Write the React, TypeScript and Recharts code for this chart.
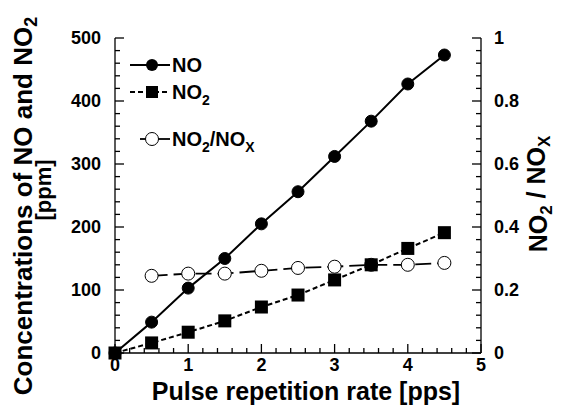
import React from 'react';
import { ComposedChart, Line, XAxis, YAxis, Legend, Label } from 'recharts';

// pulse repetition rate [pps]
const rates = [0, 0.5, 1, 1.5, 2, 2.5, 3, 3.5, 4, 4.5];
// concentrations [ppm]
const noPpm = [0, 49, 103, 150, 205, 256, 312, 368, 427, 473];
const no2Ppm = [0, 16, 33, 51, 73, 92, 116, 140, 166, 191];
// NO2 / NOx (undefined at 0 pps)
const ratio = [null, 0.245, 0.252, 0.252, 0.261, 0.27, 0.274, 0.28, 0.28, 0.286];

const xMajor = [0, 1, 2, 3, 4, 5];
const leftMajor = [0, 100, 200, 300, 400, 500];
const rightMajor = [0, 0.2, 0.4, 0.6, 0.8, 1];
const rightLabels = ['0', '0.2', '0.4', '0.6', '0.8', '1'];

const data = rates.map((x, i) => ({ x, no: noPpm[i], no2: no2Ppm[i], ratio: ratio[i] }));

const FONT = '"Liberation Sans", Arial, Helvetica, sans-serif';

// 5 minor steps between major ticks
const withMinor = (major: number[]) => {
  const out: number[] = [];
  for (let i = 0; i < major.length - 1; i++) {
    for (let k = 0; k < 5; k++) out.push(major[i] + ((major[i + 1] - major[i]) * k) / 5);
  }
  out.push(major[major.length - 1]);
  return out;
};
const majorIndex = (major: number[], v: number) => major.findIndex((m) => Math.abs(m - v) < 1e-9);

const xTicks = withMinor(xMajor);
const leftTicks = withMinor(leftMajor);
const rightTicks = withMinor(rightMajor);

const MAJ = 9;
const MIN = 5;
const SW = 1.3;

const BottomTick = (props: any) => {
  const { x, y, payload } = props;
  const i = majorIndex(xMajor, payload.value);
  return (
    <g>
      <line x1={x} x2={x} y1={y} y2={y - (i >= 0 ? MAJ : MIN)} stroke="#000" strokeWidth={SW} />
      {i >= 0 && (
        <text x={x} y={y + 18} textAnchor="middle" fontFamily={FONT} fontWeight="bold" fontSize={18} fill="#000">
          {xMajor[i]}
        </text>
      )}
    </g>
  );
};

const TopTick = (props: any) => {
  const { x, y, payload } = props;
  const i = majorIndex(xMajor, payload.value);
  return <line x1={x} x2={x} y1={y} y2={y + (i >= 0 ? MAJ : MIN)} stroke="#000" strokeWidth={SW} />;
};

const LeftTick = (props: any) => {
  const { x, y, payload } = props;
  const i = majorIndex(leftMajor, payload.value);
  return (
    <g>
      <line x1={x} x2={x + (i >= 0 ? MAJ : MIN)} y1={y} y2={y} stroke="#000" strokeWidth={SW} />
      {i >= 0 && (
        <text x={x - 14} y={y} dy="0.36em" textAnchor="end" fontFamily={FONT} fontWeight="bold" fontSize={18} fill="#000">
          {leftMajor[i]}
        </text>
      )}
    </g>
  );
};

const RightTick = (props: any) => {
  const { x, y, payload } = props;
  const i = majorIndex(rightMajor, payload.value);
  return (
    <g>
      <line x1={x} x2={x - (i >= 0 ? MAJ : MIN)} y1={y} y2={y} stroke="#000" strokeWidth={SW} />
      {i >= 0 && (
        <text x={x + 13} y={y} dy="0.36em" textAnchor="start" fontFamily={FONT} fontWeight="bold" fontSize={18} fill="#000">
          {rightLabels[i]}
        </text>
      )}
    </g>
  );
};

const Square = (props: any) => {
  const { cx, cy, index } = props;
  if (cx == null || cy == null) return <g key={`sq-${index}`} />;
  return <rect key={`sq-${index}`} x={cx - 6.5} y={cy - 6.5} width={13} height={13} fill="#000" />;
};

const sub = { fontSize: '0.7em', verticalAlign: '-0.45em', lineHeight: 0 } as React.CSSProperties;

const legendRows = [
  {
    key: 'no',
    gap: 0,
    symbol: (
      <>
        <line x1={0} x2={40} y1={10} y2={10} stroke="#000" strokeWidth={2} />
        <circle cx={22} cy={10} r={6} fill="#000" />
      </>
    ),
    label: <>NO</>,
  },
  {
    key: 'no2',
    gap: 7,
    symbol: (
      <>
        <line x1={0} x2={40} y1={10} y2={10} stroke="#000" strokeWidth={2} strokeDasharray="5 3" />
        <rect x={16} y={4} width={12} height={12} fill="#000" />
      </>
    ),
    label: (
      <>
        NO<span style={sub}>2</span>
      </>
    ),
  },
  {
    key: 'ratio',
    gap: 27,
    symbol: (
      <>
        <line x1={10} x2={40} y1={10} y2={10} stroke="#000" strokeWidth={1.8} />
        <circle cx={22} cy={10} r={6.5} fill="#fff" stroke="#000" strokeWidth={1} />
      </>
    ),
    label: (
      <>
        NO<span style={sub}>2</span>/NO<span style={sub}>X</span>
      </>
    ),
  },
];

const renderLegend = () => (
  <div style={{ fontFamily: FONT, fontWeight: 'bold', fontSize: 20, color: '#000' }}>
    {legendRows.map((r) => (
      <div key={r.key} style={{ display: 'flex', alignItems: 'center', height: 20, lineHeight: '20px', marginTop: r.gap }}>
        <svg width={40} height={20} style={{ display: 'block' }}>
          {r.symbol}
        </svg>
        <span style={{ marginLeft: 2, whiteSpace: 'nowrap' }}>{r.label}</span>
      </div>
    ))}
  </div>
);

const txt = { fontFamily: FONT, fontWeight: 'bold', fill: '#000' } as any;

const XTitle = (props: any) => {
  const vb = props.viewBox;
  return (
    <text x={vb.x + vb.width / 2 + 8} y={vb.y + 47} textAnchor="middle" fontSize={25} {...txt}>
      Pulse repetition rate [pps]
    </text>
  );
};

const LeftTitle = () => (
  <g>
    <text x={32} y={206} transform="rotate(-90, 32, 206)" textAnchor="middle" fontSize={26} {...txt}>
      Concentrations of NO and NO<tspan dy="0.3em" fontSize={18}>2</tspan>
    </text>
    <text x={51} y={190} transform="rotate(-90, 51, 190)" textAnchor="middle" fontSize={22} {...txt}>
      [ppm]
    </text>
  </g>
);

const RightTitle = () => (
  <text x={547} y={194} transform="rotate(-90, 547, 194)" textAnchor="middle" fontSize={25} {...txt}>
    NO<tspan dy="0.3em" fontSize={17}>2</tspan>
    <tspan dy="-0.3em"> / NO</tspan>
    <tspan dy="0.3em" fontSize={17}>X</tspan>
  </text>
);

export default function App() {
  return (
    <div style={{ position: 'absolute', left: 0, top: 0, width: 561, height: 414, background: '#fff' }}>
      <ComposedChart width={561} height={414} data={data} margin={{ top: 38, right: 0, bottom: 0, left: 0 }}>
        <XAxis
          xAxisId="top"
          orientation="top"
          dataKey="x"
          type="number"
          domain={[0, 5]}
          ticks={xTicks}
          interval={0}
          height={0}
          tickSize={0}
          tickMargin={0}
          tick={<TopTick />}
          axisLine={{ stroke: '#000', strokeWidth: SW }}
        />
        <XAxis
          dataKey="x"
          type="number"
          domain={[0, 5]}
          ticks={xTicks}
          interval={0}
          height={61}
          tickSize={0}
          tickMargin={0}
          tick={<BottomTick />}
          axisLine={{ stroke: '#000', strokeWidth: SW }}
        >
          <Label content={<XTitle />} />
        </XAxis>
        <YAxis
          yAxisId="left"
          type="number"
          domain={[0, 500]}
          ticks={leftTicks}
          interval={0}
          width={115}
          tickSize={0}
          tickMargin={0}
          tick={<LeftTick />}
          axisLine={{ stroke: '#000', strokeWidth: SW }}
        >
          <Label content={<LeftTitle />} />
        </YAxis>
        <YAxis
          yAxisId="right"
          orientation="right"
          type="number"
          domain={[0, 1]}
          ticks={rightTicks}
          interval={0}
          width={80}
          tickSize={0}
          tickMargin={0}
          tick={<RightTick />}
          axisLine={{ stroke: '#000', strokeWidth: SW }}
        >
          <Label content={<RightTitle />} />
        </YAxis>
        <Legend
          layout="vertical"
          align="center"
          verticalAlign="middle"
          content={renderLegend}
          wrapperStyle={{ left: 130, top: 55, width: 'auto', height: 'auto' }}
        />
        <Line
          yAxisId="right"
          dataKey="ratio"
          name="NO2/NOX"
          stroke="#000"
          strokeWidth={1.8}
          strokeDasharray="16 6"
          dot={{ r: 6.5, fill: '#fff', stroke: '#000', strokeWidth: 1, strokeDasharray: '0' }}
          isAnimationActive={false}
        />
        <Line
          yAxisId="left"
          dataKey="no"
          name="NO"
          stroke="#000"
          strokeWidth={2}
          dot={{ r: 6, fill: '#000', stroke: '#000', strokeWidth: 1 }}
          isAnimationActive={false}
        />
        <Line
          yAxisId="left"
          dataKey="no2"
          name="NO2"
          stroke="#000"
          strokeWidth={2}
          strokeDasharray="5 3"
          dot={<Square />}
          isAnimationActive={false}
        />
      </ComposedChart>
    </div>
  );
}
